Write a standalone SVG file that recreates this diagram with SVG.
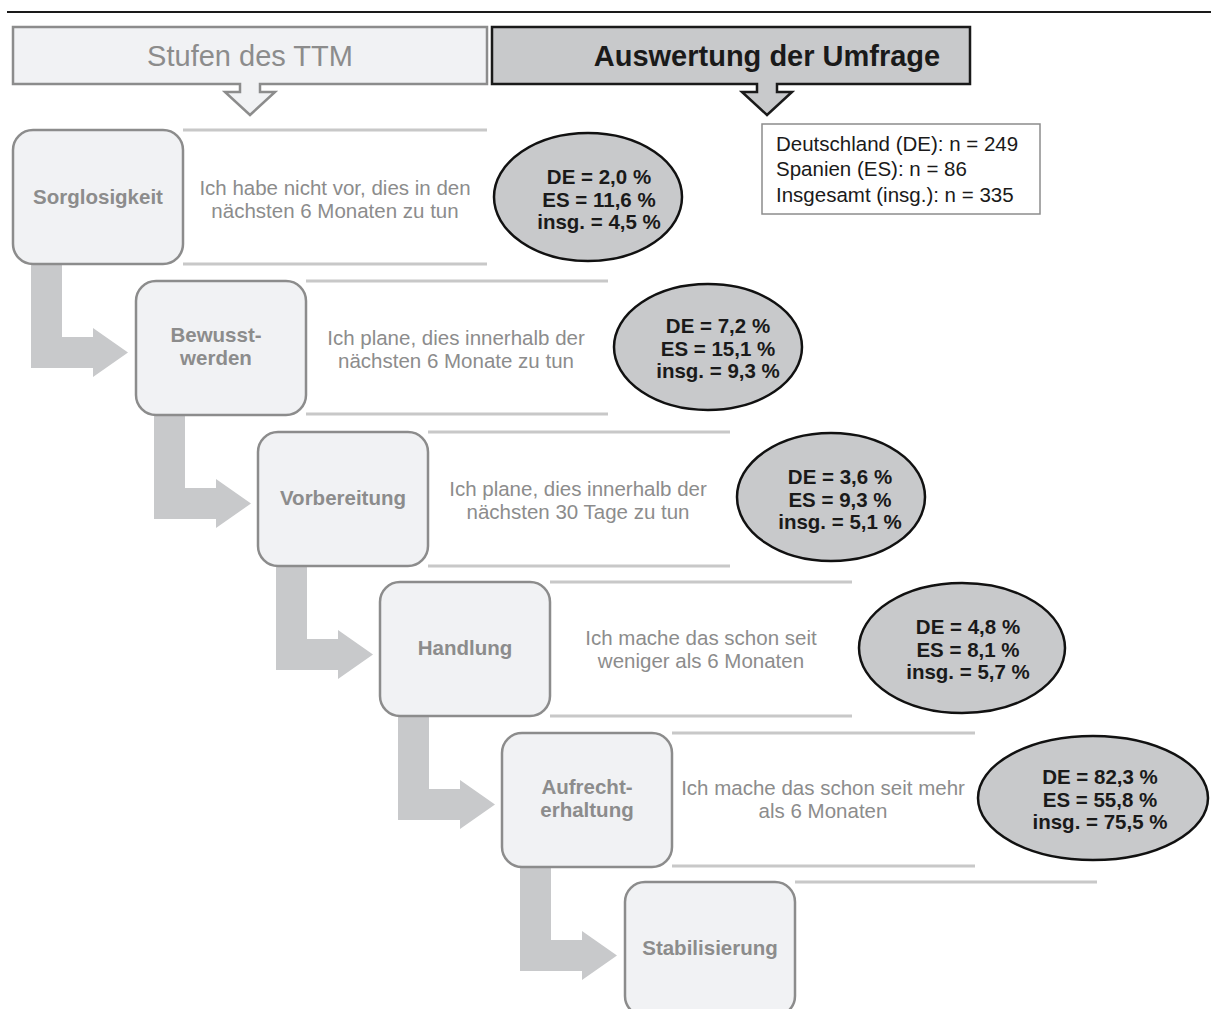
<svg xmlns="http://www.w3.org/2000/svg" width="1211" height="1009" viewBox="0 0 1211 1009">
<style>
.node{fill:#f1f2f4;stroke:#8c8c8c;stroke-width:2.5}
.nlab{font-family:"Liberation Sans",Arial,sans-serif;font-weight:bold;font-size:20.5px;fill:#8c8c8c;text-anchor:middle}
.desc{font-family:"Liberation Sans",Arial,sans-serif;font-size:20.5px;fill:#8c8c8c;text-anchor:middle}
.sep{stroke:#c8c8c8;stroke-width:3}
.ell{fill:#c8c9cb;stroke:#111;stroke-width:2.5}
.etxt{font-family:"Liberation Sans",Arial,sans-serif;font-weight:bold;font-size:20.5px;fill:#1a1a1a;text-anchor:middle}
.flow{fill:#c8c9cb}
.info{font-family:"Liberation Sans",Arial,sans-serif;font-size:20.5px;fill:#1a1a1a}
</style>
<line x1="7" y1="12" x2="1211" y2="12" stroke="#1a1a1a" stroke-width="2"/>
<g id="header-ttm">
<path d="M13,27 H487 V84 H260 V92 H275 L250,115 L225,92 H240 V84 H13 Z" fill="#f1f2f4" stroke="#8c8c8c" stroke-width="2.5"/>
<text x="250" y="66" font-family="Liberation Sans, Arial, sans-serif" font-size="29" fill="#8c8c8c" text-anchor="middle">Stufen des TTM</text>
</g>
<g id="header-umfrage">
<path d="M492,27 H970 V84 H777 V92 H792 L767,115 L742,92 H757 V84 H492 Z" fill="#c8c9cb" stroke="#1a1a1a" stroke-width="2.5"/>
<text x="767" y="66" font-family="Liberation Sans, Arial, sans-serif" font-size="29" font-weight="bold" fill="#1a1a1a" text-anchor="middle">Auswertung der Umfrage</text>
</g>
<g id="info">
<rect x="762" y="124" width="278" height="90" fill="#fff" stroke="#8c8c8c" stroke-width="1.5"/>
<text class="info" x="776" y="151">Deutschland (DE): n = 249</text>
<text class="info" x="776" y="176">Spanien (ES): n = 86</text>
<text class="info" x="776" y="202">Insgesamt (insg.): n = 335</text>
</g>
<g id="connectors">
<path class="flow" d="M31,264 H62 V337 H93 V328 L128,352.5 L93,377 V368 H31 Z"/>
<path class="flow" d="M154,415 H185 V488 H216 V479 L251,503.5 L216,528 V519 H154 Z"/>
<path class="flow" d="M276,566 H307 V639 H338 V630 L373,654.5 L338,679 V670 H276 Z"/>
<path class="flow" d="M398,716 H429 V789 H460 V780 L495,804.5 L460,829 V820 H398 Z"/>
<path class="flow" d="M520,867 H551 V940 H582 V931 L617,955.5 L582,980 V971 H520 Z"/>
</g>
<g id="stage1">
<rect class="node" x="13" y="130" width="170" height="134" rx="20"/>
<text class="nlab" x="98" y="204">Sorglosigkeit</text>
<line class="sep" x1="183" y1="130" x2="487" y2="130"/>
<line class="sep" x1="183" y1="264" x2="487" y2="264"/>
<text class="desc" x="335" y="195">Ich habe nicht vor, dies in den</text>
<text class="desc" x="335" y="218">nächsten 6 Monaten zu tun</text>
<ellipse class="ell" cx="588" cy="197" rx="94" ry="64"/>
<text class="etxt" x="599" y="184">DE = 2,0 %</text>
<text class="etxt" x="599" y="207">ES = 11,6 %</text>
<text class="etxt" x="599" y="229">insg. = 4,5 %</text>
</g>
<g id="stage2">
<rect class="node" x="136" y="281" width="170" height="134" rx="20"/>
<text class="nlab" x="216" y="342">Bewusst-</text>
<text class="nlab" x="216" y="365">werden</text>
<line class="sep" x1="306" y1="281" x2="608" y2="281"/>
<line class="sep" x1="306" y1="414" x2="608" y2="414"/>
<text class="desc" x="456" y="345">Ich plane, dies innerhalb der</text>
<text class="desc" x="456" y="368">nächsten 6 Monate zu tun</text>
<ellipse class="ell" cx="708" cy="347" rx="94" ry="63"/>
<text class="etxt" x="718" y="333">DE = 7,2 %</text>
<text class="etxt" x="718" y="356">ES = 15,1 %</text>
<text class="etxt" x="718" y="378">insg. = 9,3 %</text>
</g>
<g id="stage3">
<rect class="node" x="258" y="432" width="170" height="134" rx="20"/>
<text class="nlab" x="343" y="505">Vorbereitung</text>
<line class="sep" x1="428" y1="432" x2="730" y2="432"/>
<line class="sep" x1="428" y1="566" x2="730" y2="566"/>
<text class="desc" x="578" y="496">Ich plane, dies innerhalb der</text>
<text class="desc" x="578" y="519">nächsten 30 Tage zu tun</text>
<ellipse class="ell" cx="831" cy="497" rx="94" ry="64"/>
<text class="etxt" x="840" y="484">DE = 3,6 %</text>
<text class="etxt" x="840" y="507">ES = 9,3 %</text>
<text class="etxt" x="840" y="529">insg. = 5,1 %</text>
</g>
<g id="stage4">
<rect class="node" x="380" y="582" width="170" height="134" rx="20"/>
<text class="nlab" x="465" y="655">Handlung</text>
<line class="sep" x1="550" y1="582" x2="852" y2="582"/>
<line class="sep" x1="550" y1="716" x2="852" y2="716"/>
<text class="desc" x="701" y="645">Ich mache das schon seit</text>
<text class="desc" x="701" y="668">weniger als 6 Monaten</text>
<ellipse class="ell" cx="962" cy="648" rx="103" ry="65"/>
<text class="etxt" x="968" y="634">DE = 4,8 %</text>
<text class="etxt" x="968" y="657">ES = 8,1 %</text>
<text class="etxt" x="968" y="679">insg. = 5,7 %</text>
</g>
<g id="stage5">
<rect class="node" x="502" y="733" width="170" height="134" rx="20"/>
<text class="nlab" x="587" y="794">Aufrecht-</text>
<text class="nlab" x="587" y="817">erhaltung</text>
<line class="sep" x1="672" y1="733" x2="975" y2="733"/>
<line class="sep" x1="672" y1="866" x2="975" y2="866"/>
<text class="desc" x="823" y="795">Ich mache das schon seit mehr</text>
<text class="desc" x="823" y="818">als 6 Monaten</text>
<ellipse class="ell" cx="1093" cy="798" rx="115" ry="62"/>
<text class="etxt" x="1100" y="784">DE = 82,3 %</text>
<text class="etxt" x="1100" y="807">ES = 55,8 %</text>
<text class="etxt" x="1100" y="829">insg. = 75,5 %</text>
</g>
<g id="stage6">
<rect class="node" x="625" y="882" width="170" height="134" rx="20"/>
<text class="nlab" x="710" y="955">Stabilisierung</text>
<line class="sep" x1="795" y1="882" x2="1097" y2="882"/>
</g>
</svg>
